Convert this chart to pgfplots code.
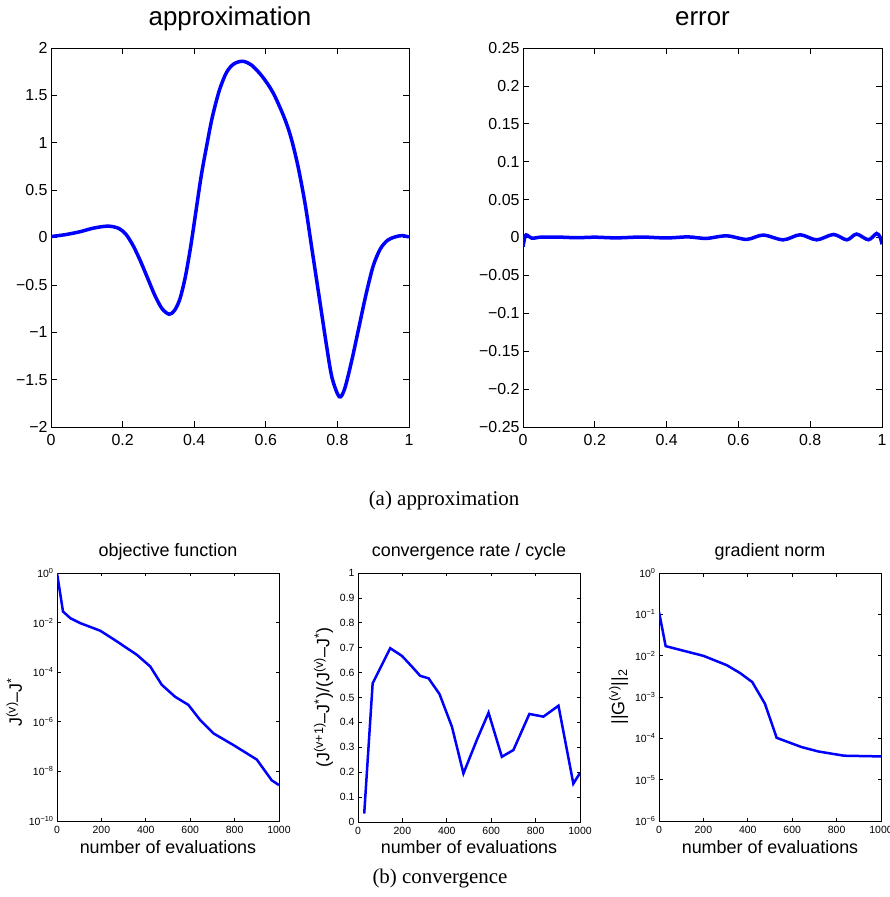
\documentclass[border=0pt]{standalone}
\usepackage{pgfplots}
\pgfplotsset{compat=1.18}
\usepackage{fontspec}
\setmainfont{Liberation Sans}
\newfontfamily\seriffont{Liberation Serif}
\definecolor{mblue}{RGB}{0,0,255}
\pgfplotsset{
  mstyle/.style={
    scale only axis, anchor=south west,
    axis line style={black, line width=0.8bp},
    tick style={black, line width=0.7bp},
    tick align=inside, tick pos=both,
    xminorticks=false, yminorticks=false,
  },
  topstyle/.style={mstyle,
    width=358bp, height=379bp,
    major tick length=6bp,
    ticklabel style={font=\fontsize{16}{16}\selectfont},
    xticklabel style={yshift=-4bp},
    title style={font=\fontsize{26}{26}\selectfont, at={(0.5,1)}, anchor=base, yshift=17bp},
    xmin=0, xmax=1,
    xtick={0,0.2,0.4,0.6,0.8,1},
    xticklabels={0,0.2,0.4,0.6,0.8,1},
  },
  botstyle/.style={mstyle,
    width=222bp, height=248bp,
    major tick length=3.5bp,
    ticklabel style={font=\fontsize{10.5}{10.5}\selectfont},
    xticklabel style={yshift=-2bp},
    title style={font=\fontsize{18}{18}\selectfont, at={(0.5,1)}, anchor=base, yshift=11bp},
    xlabel style={font=\fontsize{18}{18}\selectfont, at={(0.5,0)}, anchor=base, yshift=-32bp},
    ylabel style={font=\fontsize{18}{18}\selectfont},
    xmin=0, xmax=1000,
    xtick={0,200,400,600,800,1000},
    xticklabels={0,200,400,600,800,1000},
    xlabel={number of evaluations},
  },
}
\begin{document}
\begin{tikzpicture}
\useasboundingbox (0,0) rectangle (890bp,897bp);
\clip (0,0) rectangle (890bp,897bp);

% ---------- approximation ----------
\begin{axis}[topstyle, at={(51bp,470bp)},
  title={approximation},
  ymin=-2, ymax=2,
  ytick={-2,-1.5,-1,-0.5,0,0.5,1,1.5,2},
  yticklabels={−2,−1.5,−1,−0.5,0,0.5,1,1.5,2}]
\addplot[mblue, line width=3.5bp, smooth] coordinates {
(0,0.01) (0.04,0.03) (0.08,0.06) (0.12,0.10) (0.16,0.12) (0.19,0.095)
(0.21,0.03) (0.23,-0.09) (0.25,-0.25) (0.27,-0.43) (0.29,-0.61) (0.31,-0.75)
(0.33,-0.81) (0.345,-0.77) (0.36,-0.65) (0.375,-0.42) (0.39,-0.1) (0.405,0.28)
(0.42,0.66) (0.435,0.97) (0.45,1.26) (0.47,1.55) (0.49,1.74) (0.51,1.83)
(0.535,1.86) (0.56,1.82) (0.59,1.70) (0.62,1.53) (0.65,1.28) (0.67,1.06)
(0.69,0.75) (0.71,0.35) (0.73,-0.15) (0.75,-0.65) (0.77,-1.15) (0.785,-1.48)
(0.805,-1.68) (0.82,-1.6) (0.84,-1.3) (0.86,-0.95) (0.88,-0.6) (0.90,-0.3)
(0.92,-0.12) (0.94,-0.03) (0.96,0.005) (0.98,0.02) (1.0,0.005)};
\end{axis}

% ---------- error ----------
\begin{axis}[topstyle, at={(523bp,470bp)}, width=359bp,
  title={error},
  ymin=-0.25, ymax=0.25,
  ytick={-0.25,-0.2,-0.15,-0.1,-0.05,0,0.05,0.1,0.15,0.2,0.25},
  yticklabels={−0.25,−0.2,−0.15,−0.1,−0.05,0,0.05,0.1,0.15,0.2,0.25}]
\addplot[mblue, line width=3.5bp, smooth] coordinates {
(0,-0.012) (0.006,0.002) (0.012,0.003) (0.025,-0.001) (0.05,0.0005) (0.1,0.0005)
(0.15,-0.0003) (0.2,0.0004) (0.26,-0.0005) (0.33,0.0006) (0.40,-0.0006)
(0.46,0.0008) (0.51,-0.0012) (0.567,0.0022) (0.623,-0.0025) (0.669,0.0032)
(0.725,-0.0031) (0.772,0.0036) (0.818,-0.0031) (0.865,0.0040) (0.902,-0.0031)
(0.929,0.0045) (0.962,-0.0030) (0.985,0.0053) (0.995,0.000) (1.0,-0.009)};
\end{axis}

% ---------- objective function ----------
\begin{axis}[botstyle, at={(57bp,76bp)},
  title={objective function},
  ymode=log, ymin=1e-10, ymax=1,
  ytick={1e-10,1e-8,1e-6,1e-4,1e-2,1},
  yticklabels={10\textsuperscript{−10},10\textsuperscript{−8},10\textsuperscript{−6},10\textsuperscript{−4},10\textsuperscript{−2},10\textsuperscript{0}},
  ylabel style={xshift=-5bp},
  ylabel={J\textsuperscript{(v)}–J\textsuperscript{*}}]
\addplot[mblue, line width=2.5bp] coordinates {
(0,1) (27,0.028) (60,0.0151) (105,0.0095) (195,0.0047) (270,0.00174)
(360,0.0005) (420,0.00017) (472,0.000031) (532,0.0000102) (592,0.0000048)
(645,0.00000117) (705,0.00000034) (795,0.000000115) (900,0.00000003)
(967,0.0000000044) (1000,0.0000000028)};
\end{axis}

% ---------- convergence rate ----------
\begin{axis}[botstyle, at={(358bp,75bp)}, height=249bp,
  title={convergence rate / cycle},
  ymin=0, ymax=1,
  ytick={0,0.1,0.2,0.3,0.4,0.5,0.6,0.7,0.8,0.9,1},
  yticklabels={0,0.1,0.2,0.3,0.4,0.5,0.6,0.7,0.8,0.9,1},
  ylabel={(J\textsuperscript{(v+1)}–J\textsuperscript{*})/(J\textsuperscript{(v)}–J\textsuperscript{*})}]
\addplot[mblue, line width=2.5bp] coordinates {
(28,0.034) (66,0.557) (145,0.698) (198,0.667) (243,0.624) (280,0.587)
(318,0.577) (367,0.514) (423,0.383) (475,0.195) (535,0.329) (588,0.439)
(648,0.262) (700,0.289) (772,0.434) (835,0.423) (903,0.467) (970,0.154)
(1000,0.197)};
\end{axis}

% ---------- gradient norm ----------
\begin{axis}[botstyle, at={(659bp,76bp)},
  title={gradient norm},
  ymode=log, ymin=1e-6, ymax=1,
  ytick={1e-6,1e-5,1e-4,1e-3,1e-2,1e-1,1},
  yticklabels={10\textsuperscript{−6},10\textsuperscript{−5},10\textsuperscript{−4},10\textsuperscript{−3},10\textsuperscript{−2},10\textsuperscript{−1},10\textsuperscript{0}},
  ylabel={||G\textsuperscript{(v)}||\textsubscript{2}}]
\addplot[mblue, line width=2.5bp] coordinates {
(0,0.115) (30,0.017) (200,0.0099) (305,0.0059) (365,0.0038) (420,0.0023)
(477,0.00069) (530,0.000103) (642,0.0000615) (717,0.0000482) (833,0.0000380)
(1000,0.0000365)};
\end{axis}

% ---------- captions ----------
\node[anchor=base, font=\seriffont\fontsize{21}{21}\selectfont] at (444bp,391bp) {(a) approximation};
\node[anchor=base, font=\seriffont\fontsize{21}{21}\selectfont] at (440bp,14bp) {(b) convergence};
\end{tikzpicture}
\end{document}
